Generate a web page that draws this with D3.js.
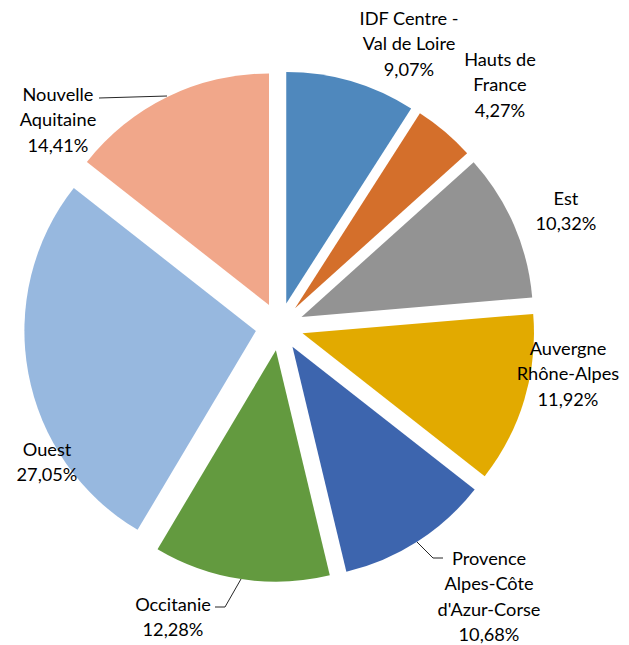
<!DOCTYPE html>
<html><head><meta charset="utf-8">
<script src="https://cdn.jsdelivr.net/npm/d3@7"></script>
<style>
html,body{margin:0;padding:0;background:#fff;}
text{font-family:Lato, "Open Sans", sans-serif;fill:#000;}
</style></head>
<body><svg id="c" width="629" height="645"></svg>
<script>
const categories = ["IDF Centre - Val de Loire","Hauts de France","Est","Auvergne Rhône-Alpes","Provence Alpes-Côte d'Azur-Corse","Occitanie","Ouest","Nouvelle Aquitaine"];
const values = [9.07, 4.27, 10.32, 11.92, 10.68, 12.28, 27.05, 14.41];
const labelLines = [
  ["IDF Centre -","Val de Loire","9,07%"],
  ["Hauts de","France","4,27%"],
  ["Est","10,32%"],
  ["Auvergne","Rhône-Alpes","11,92%"],
  ["Provence","Alpes-Côte","d'Azur-Corse","10,68%"],
  ["Occitanie","12,28%"],
  ["Ouest","27,05%"],
  ["Nouvelle","Aquitaine","14,41%"]
];
const colors = ["#4F88BD","#D46F2B","#939393","#E2AA00","#3D65AE","#639A3F","#97B8DF","#F1A78A"];

// layout
const cx = 279.5, cy = 326.5, R = 231.5, explode = 24;
const labelPos = [ // [centerX, firstBaseline]
  [409, 25],[500, 66],[566, 205],[568, 355],[489, 565],[173, 611],[47, 456],[58, 101]
];
const leaders = {
  4: [[417,542],[433,558],[443,558]],
  5: [[241,579],[225,607],[215,607]],
  7: [[167,96],[99,98]]
};
const lineH = 25.3;

const svg = d3.select("#c");
const pie = d3.pie().sort(null).value(d => d)(values);
const arc = d3.arc().innerRadius(0).outerRadius(R);
const g = svg.append("g").attr("transform", `translate(${cx},${cy})`);
g.selectAll("path").data(pie).join("path")
  .attr("d", arc)
  .attr("fill", (d,i) => colors[i])
  .attr("transform", d => {
    const a = (d.startAngle + d.endAngle) / 2;
    return `translate(${explode*Math.sin(a)},${-explode*Math.cos(a)})`;
  });

const line = d3.line();
Object.entries(leaders).forEach(([i, pts]) => {
  svg.append("path").attr("d", line(pts)).attr("fill","none")
    .attr("stroke","#262626").attr("stroke-width",1);
});

labelLines.forEach((lines, i) => {
  const t = svg.append("text").attr("text-anchor","middle")
    .attr("font-size", 18.2);
  lines.forEach((s, k) => {
    t.append("tspan").attr("x", labelPos[i][0]).attr("y", labelPos[i][1] + k*lineH).text(s);
  });
});
</script></body></html>
